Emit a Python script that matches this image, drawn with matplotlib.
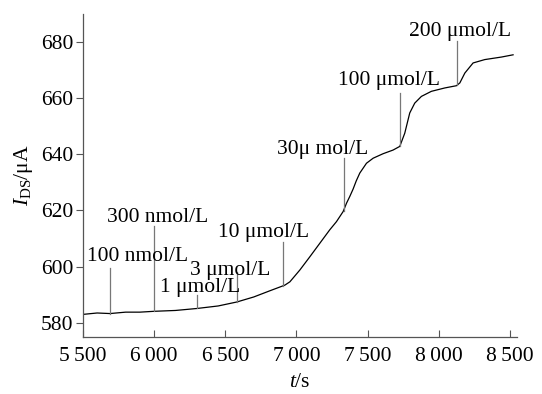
import matplotlib
matplotlib.use('Agg')
import matplotlib.pyplot as plt

# curve (t in s, I_DS in uA)
t_pts = [5500, 5600, 5690, 5800, 5900, 6000, 6150, 6300, 6450, 6580, 6700, 6813,
         6918, 6954, 7024, 7094, 7164, 7234, 7281, 7328, 7352, 7375, 7398, 7420,
         7445, 7492, 7539, 7609, 7679, 7726, 7761, 7796, 7831, 7878, 7948, 8042,
         8124, 8148, 8183, 8241, 8323, 8440, 8522]
i_pts = [583.0, 583.5, 583.3, 583.8, 583.8, 584.1, 584.4, 585.1, 586.0, 587.4, 589.2, 591.4,
         593.4, 594.6, 598.8, 603.5, 608.3, 613.1, 616.0, 619.6, 622.6, 625.0, 627.6, 630.5,
         633.3, 636.8, 638.6, 640.2, 641.5, 642.8, 647.5, 654.7, 658.2, 660.6, 662.4, 663.6,
         664.4, 665.4, 668.9, 672.5, 673.7, 674.6, 675.4]

# additions: label, time of addition, curve value there, top of marker line
add_labels = ['100 nmol/L', '300 nmol/L', '1 \u03bcmol/L', '3 \u03bcmol/L', '10 \u03bcmol/L',
              '30\u03bc mol/L', '100 \u03bcmol/L', '200 \u03bcmol/L']
add_t = [5690, 6001, 6303, 6579, 6904, 7333, 7726, 8131]
add_base = [583.3, 584.1, 585.1, 587.4, 593.2, 619.8, 642.8, 664.5]
add_top = [599.4, 614.5, 589.9, 598.2, 608.9, 638.6, 661.8, 680.2]
# text anchor (left edge, baseline)
text_x = [5526, 5666, 6041, 6251, 6448, 6860, 7291, 7789]
text_y = [602.1, 616.0, 591.1, 597.0, 610.7, 640.0, 664.5, 682.0]

x_ticks = [5500, 6000, 6500, 7000, 7500, 8000, 8500]
x_ticklabels = ['5\u2009500', '6\u2009000', '6\u2009500', '7\u2009000', '7\u2009500', '8\u2009000', '8\u2009500']
y_ticks = [580, 600, 620, 640, 660, 680]

plt.rcParams['font.family'] = ['Liberation Serif', 'DejaVu Serif']
plt.rcParams['mathtext.fontset'] = 'custom'
plt.rcParams['mathtext.rm'] = 'Liberation Serif'
plt.rcParams['mathtext.it'] = 'Liberation Serif:italic'
plt.rcParams['font.size'] = 15.5

fig = plt.figure(figsize=(5.42, 3.94), dpi=100)
ax = fig.add_axes([0.153, 0.145, 0.801, 0.82])

ax.plot(t_pts, i_pts, color='black', lw=0.9)

for lab, t, b, top, tx, ty in zip(add_labels, add_t, add_base, add_top, text_x, text_y):
    ax.plot([t, t], [b, top], color='#777777', lw=0.9)
    ax.text(tx, ty, lab, ha='left', va='baseline')

ax.set_xlim(5500, 8550)
ax.set_ylim(575, 690)
ax.set_xticks(x_ticks)
ax.set_xticklabels(x_ticklabels)
ax.set_yticks(y_ticks)
ax.tick_params(axis='x', direction='in', length=5, color='#555555', pad=7)
ax.tick_params(axis='y', direction='out', length=5, color='#555555', pad=2)

for s in ['top', 'right']:
    ax.spines[s].set_visible(False)
for s in ['left', 'bottom']:
    ax.spines[s].set_color('#555555')
    ax.spines[s].set_linewidth(0.9)

ax.set_xlabel('$t$/s', labelpad=5)
ax.set_ylabel('$I_{\\mathrm{DS}}$/\u03bcA', labelpad=4)

fig.savefig('out.png', dpi=100)
